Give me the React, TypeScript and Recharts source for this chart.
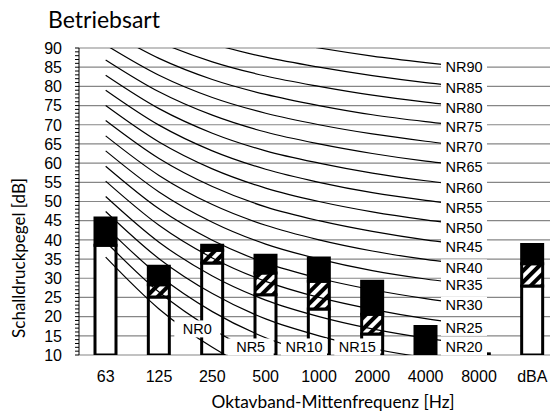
import React from 'react';
import {
  ComposedChart,
  Bar,
  Line,
  XAxis,
  YAxis,
  CartesianGrid,
  ReferenceDot,
} from 'recharts';

// Oktavband categories
const FREQS = ['63', '125', '250', '500', '1000', '2000', '4000', '8000', 'dBA'];

// bar segment boundaries [dB]: white up to LOW, hatched up to MID, black up to HIGH
const LEVEL_LOW = [38.6, 25.1, 34.0, 25.7, 22.0, 15.5, 10, 10, 28.0];
const LEVEL_MID = [38.6, 28.3, 37.3, 31.4, 29.2, 20.6, 10, 10, 33.8];
const LEVEL_HIGH = [45.7, 33.1, 38.6, 36.0, 35.3, 29.2, 17.4, 10.3, 38.8];

// NR curves, values at 63 ... 8000 Hz
const NR_LEVELS = [0, 5, 10, 15, 20, 25, 30, 35, 40, 45, 50, 55, 60, 65, 70, 75, 80, 85, 90];
const NR_CURVES: number[][] = [
  [35.5, 22.0, 12.0, 4.8, 0, -3.5, -6.1, -8.0],
  [39.5, 26.4, 16.7, 9.7, 5, 1.6, -1.0, -2.9],
  [43.4, 30.7, 21.3, 14.5, 10, 6.7, 4.2, 2.3],
  [47.4, 35.1, 26.0, 19.4, 15, 11.7, 9.3, 7.5],
  [51.3, 39.4, 30.6, 24.3, 20, 16.8, 14.4, 12.6],
  [55.3, 43.8, 35.3, 29.2, 25, 21.9, 19.5, 17.8],
  [59.2, 48.1, 39.9, 34.0, 30, 27.0, 24.7, 22.9],
  [63.2, 52.5, 44.6, 38.9, 35, 32.0, 29.8, 28.1],
  [67.1, 56.8, 49.2, 43.8, 40, 37.1, 34.9, 33.2],
  [71.1, 61.2, 53.9, 48.6, 45, 42.2, 40.0, 38.4],
  [75.0, 65.5, 58.5, 53.5, 50, 47.3, 45.2, 43.5],
  [79.0, 69.9, 63.2, 58.4, 55, 52.3, 50.3, 48.7],
  [82.9, 74.2, 67.8, 63.2, 60, 57.4, 55.4, 53.8],
  [86.9, 78.6, 72.5, 68.1, 65, 62.5, 60.5, 59.0],
  [90.8, 82.9, 77.1, 73.0, 70, 67.6, 65.7, 64.1],
  [94.8, 87.3, 81.8, 77.9, 75, 72.6, 70.8, 69.3],
  [98.7, 91.6, 86.4, 82.7, 80, 77.7, 75.9, 74.4],
  [102.7, 96.0, 91.1, 87.6, 85, 82.8, 81.0, 79.6],
  [106.6, 100.3, 95.7, 92.5, 90, 87.9, 86.2, 84.7],
];

// where each NR label sits (category, dB)
const NR_LABEL_FREQ = ['250', '500', '1000', '2000', '8000', '8000', '8000', '8000', '8000', '8000',
  '8000', '8000', '8000', '8000', '8000', '8000', '8000', '8000', '8000'];
const NR_LABEL_DB = [16.8, 12.1, 12.1, 12.1, 12.1, 17.2, 23.0, 28.3, 32.7, 38.2,
  43.2, 48.4, 53.6, 59.0, 64.2, 69.4, 74.5, 79.6, 85.0];

const Y_TICKS = Array.from({ length: 81 }, (_, i) => 10 + i);
const Y_MAJOR = Array.from({ length: 17 }, (_, i) => 10 + i * 5);

const data = FREQS.map((freq, i) => {
  const row: Record<string, any> = {
    freq,
    low: [10, LEVEL_LOW[i]],
    mid: [LEVEL_LOW[i], LEVEL_MID[i]],
    high: [LEVEL_MID[i], LEVEL_HIGH[i]],
  };
  NR_LEVELS.forEach((n, k) => {
    if (i < NR_CURVES[k].length) row[`nr${n}`] = NR_CURVES[k][i];
  });
  return row;
});

const ARIAL = '"Liberation Sans", Arial, sans-serif';
const TITLE_FONT = 'Lato, "Open Sans", sans-serif';

function YTick(props: any) {
  const { x, y, payload } = props;
  const major = payload.value % 5 === 0;
  return (
    <g>
      <line x1={x + 4} x2={x + 8} y1={y} y2={y} stroke="#000" strokeWidth={1} />
      {major && (
        <text x={x - 9} y={y} dy="0.36em" textAnchor="end" fontSize={16} fontFamily={ARIAL} fill="#000">
          {payload.value}
        </text>
      )}
    </g>
  );
}

function NrLabel(text: string) {
  return (props: any) => {
    const { cx, cy } = props;
    const c = cx - 15;
    return (
      <g>
        <rect x={c - 23} y={cy - 8.5} width={46} height={17} fill="#fff" />
        <text x={c} y={cy} dy="0.36em" textAnchor="middle" fontSize={14.5} fontFamily={ARIAL} fill="#000">
          {text}
        </text>
      </g>
    );
  };
}

export default function App() {
  return (
    <div style={{ position: 'relative', width: 550, height: 415, overflow: 'hidden' }}>
      <style>{'html, body { margin: 0; overflow: hidden; }'}</style>
      <div style={{ position: 'absolute', left: 8, top: 8 }}>
        <ComposedChart
          width={551}
          height={407}
          data={data}
          margin={{ top: 40, right: 0, bottom: 30, left: 0 }}
          barSize={21}
          barGap={-21}
        >
          <defs>
            <pattern id="hatch" patternUnits="userSpaceOnUse" width={8} height={8} patternTransform="rotate(45)">
              <rect width={8} height={8} fill="#000" />
              <rect width={4} height={8} fill="#fff" />
            </pattern>
          </defs>
          <CartesianGrid vertical={false} horizontalValues={Y_MAJOR} stroke="#868686" strokeWidth={1.2} />
          <XAxis
            dataKey="freq"
            height={30}
            tickLine={false}
            axisLine={false}
            tickSize={0}
            tickMargin={16}
            interval={0}
            tick={{ fontSize: 16, fontFamily: ARIAL, fill: '#000' }}
          />
          <YAxis
            width={71}
            domain={[10, 90]}
            allowDataOverflow
            ticks={Y_TICKS}
            interval={0}
            tickSize={4}
            tickMargin={4}
            tickLine={false}
            axisLine={{ stroke: '#000', strokeWidth: 1 }}
            tick={<YTick />}
          />
          <Bar dataKey="low" fill="#fff" stroke="#000" strokeWidth={3} isAnimationActive={false} />
          <Bar dataKey="mid" fill="url(#hatch)" stroke="#000" strokeWidth={3} isAnimationActive={false} />
          <Bar dataKey="high" fill="#000" stroke="#000" strokeWidth={3} isAnimationActive={false} />
          {NR_LEVELS.map((n) => (
            <Line
              key={n}
              dataKey={`nr${n}`}
              type="monotone"
              stroke="#000"
              strokeWidth={1.2}
              dot={false}
              activeDot={false}
              isAnimationActive={false}
            />
          ))}
          {NR_LEVELS.map((n, k) => (
            <ReferenceDot
              key={`l${n}`}
              x={NR_LABEL_FREQ[k]}
              y={NR_LABEL_DB[k]}
              r={0}
              shape={NrLabel(`NR${n}`)}
            />
          ))}
        </ComposedChart>
      </div>
      <svg
        width={550}
        height={415}
        style={{ position: 'absolute', left: 0, top: 0, pointerEvents: 'none' }}
      >
        <text x={48} y={28.3} fontSize={23} fontFamily={TITLE_FONT} fill="#000">
          Betriebsart
        </text>
        <text x={333} y={408} textAnchor="middle" fontSize={17.3} fontFamily={TITLE_FONT} fill="#000">
          Oktavband-Mittenfrequenz [Hz]
        </text>
        <text
          x={25}
          y={258}
          textAnchor="middle"
          fontSize={17}
          fontFamily={TITLE_FONT}
          fill="#000"
          transform="rotate(-90, 25, 258)"
        >
          Schalldruckpegel [dB]
        </text>
      </svg>
    </div>
  );
}
